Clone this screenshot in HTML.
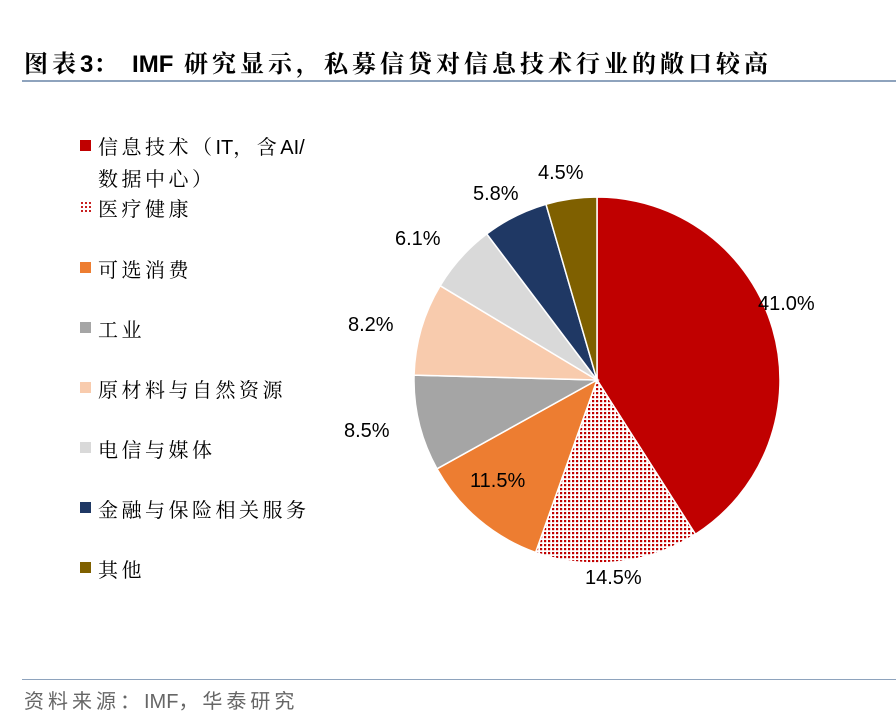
<!DOCTYPE html>
<html><head><meta charset="utf-8"><style>
body{margin:0;width:896px;height:724px;background:#fff;position:relative;overflow:hidden;font-family:"Liberation Sans","Noto Sans CJK SC",sans-serif}
.t{position:absolute;left:24px;top:44px;font-size:24px;font-weight:bold;color:#000;white-space:nowrap;letter-spacing:4px;font-family:"Liberation Sans","Noto Serif CJK SC",serif}
.l1{position:absolute;left:22px;top:80px;width:874px;height:2px;background:#8ea3bd}
.l2{position:absolute;left:22px;top:679px;width:874px;height:1px;background:#8ea3bd}
.f{position:absolute;left:24px;top:685px;font-size:20px;color:#666;letter-spacing:4px}
.lg{position:absolute;left:98px;font-size:20px;color:#000;white-space:nowrap;letter-spacing:3.5px;font-family:"Liberation Sans","Noto Serif CJK SC",serif}
.n{letter-spacing:0}
.m{position:absolute;left:80px;width:11px;height:11px}
.p{position:absolute;font-size:20px;color:#000}
</style></head><body>
<div class="t">图表<span class="n">3</span>：&nbsp;<span class="n">IMF</span> 研究显示，私募信贷对信息技术行业的敞口较高</div>
<div class="l1"></div>
<div class="m" style="top:140px;background:#c00000"></div><div class="lg" style="top:131px">信息技术（<span class="n">IT</span>，含<span class="n">AI/</span></div>
<div class="lg" style="top:163px">数据中心）</div>
<div class="m" style="top:201px;background:radial-gradient(#c00000 35%,#fff 40%) 0 0/4px 4px"></div><div class="lg" style="top:193px">医疗健康</div>
<div class="m" style="top:262px;background:#ed7d31"></div><div class="lg" style="top:254px">可选消费</div>
<div class="m" style="top:322px;background:#a5a5a5"></div><div class="lg" style="top:314px">工业</div>
<div class="m" style="top:382px;background:#f8cbad"></div><div class="lg" style="top:374px">原材料与自然资源</div>
<div class="m" style="top:442px;background:#d9d9d9"></div><div class="lg" style="top:434px">电信与媒体</div>
<div class="m" style="top:502px;background:#1f3864"></div><div class="lg" style="top:494px">金融与保险相关服务</div>
<div class="m" style="top:562px;background:#7f6000"></div><div class="lg" style="top:554px">其他</div>
<svg width="896" height="724" style="position:absolute;left:0;top:0" id="s">
<defs><pattern id="dp" width="4" height="4" patternUnits="userSpaceOnUse"><rect width="4" height="4" fill="#fff"/><rect width="2.2" height="2.2" fill="#c00000"/></pattern></defs>
</svg>
<div class="p" style="left:758px;top:293px">41.0%</div>
<div class="p" style="left:585px;top:567px">14.5%</div>
<div class="p" style="left:470px;top:470px">11.5%</div>
<div class="p" style="left:344px;top:420px">8.5%</div>
<div class="p" style="left:348px;top:314px">8.2%</div>
<div class="p" style="left:395px;top:228px">6.1%</div>
<div class="p" style="left:473px;top:183px">5.8%</div>
<div class="p" style="left:538px;top:162px">4.5%</div>
<div class="l2"></div>
<div class="f">资料来源：<span class="n">IMF</span>，华泰研究</div>
<script>
var v=[41,14.5,11.5,8.5,8.2,6.1,5.8,4.5],c=["#c00000","url(#dp)","#ed7d31","#a5a5a5","#f8cbad","#d9d9d9","#1f3864","#7f6000"];
var s=0;v.forEach(function(x){s+=x});var cx=597,cy=380,r=183,a=0,h="";
v.forEach(function(x,i){var b=a+x/s*2*Math.PI;
var x1=cx+r*Math.sin(a),y1=cy-r*Math.cos(a),x2=cx+r*Math.sin(b),y2=cy-r*Math.cos(b);
h+='<path d="M'+cx+','+cy+'L'+x1+','+y1+'A'+r+','+r+' 0 '+((b-a)>Math.PI?1:0)+' 1 '+x2+','+y2+'Z" fill="'+c[i]+'" stroke="#fff" stroke-width="1.5"/>';a=b;});
document.getElementById('s').insertAdjacentHTML('beforeend',h);
</script>
</body></html>
